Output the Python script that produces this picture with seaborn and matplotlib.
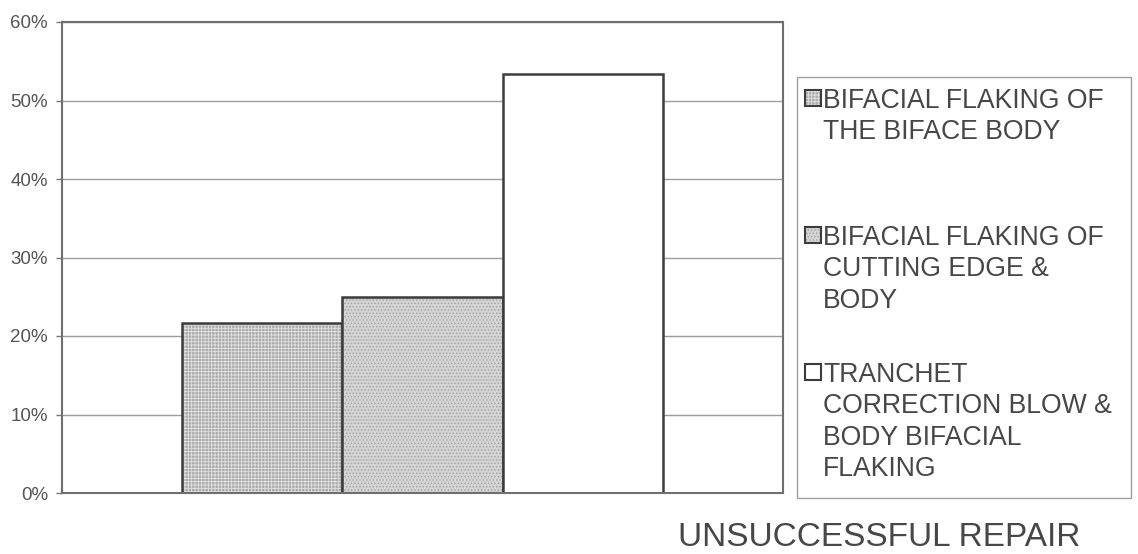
import matplotlib
matplotlib.use("Agg")
import matplotlib.pyplot as plt
import seaborn as sns
import pandas as pd
from matplotlib.colors import to_rgba
from matplotlib.patches import Rectangle
from matplotlib.ticker import FuncFormatter

# Data: share of unsuccessful repairs by repair technique (%)
category = ["UNSUCCESSFUL REPAIR"]
methods = [
    "BIFACIAL FLAKING OF\nTHE BIFACE BODY",
    "BIFACIAL FLAKING OF\nCUTTING EDGE &\nBODY",
    "TRANCHET\nCORRECTION BLOW &\nBODY BIFACIAL\nFLAKING",
]
shares = [21.6, 25.0, 53.4]
yticks = [0, 10, 20, 30, 40, 50, 60]

sns.set_theme(style="white")
plt.rcParams["font.family"] = ["Liberation Sans", "DejaVu Sans"]
plt.rcParams["hatch.linewidth"] = 0.6

df = pd.DataFrame({"group": category * len(methods), "method": methods, "share": shares})

W, H = 1138, 554
fig = plt.figure(figsize=(W / 100, H / 100), dpi=100)
ax = fig.add_axes([62 / W, 1 - 493 / H, (783 - 62) / W, (493 - 22) / H])

palette = ["#acacac", "#d3d3d3", "#ffffff"]
hatches = ["+++++", ".....", ""]
hatch_colors = ["#e2e2e2", "#a5a5a5", "#ffffff"]
edge = "#3c3c3c"
text_color = "#474747"

sns.barplot(data=df, x="group", y="share", hue="method", hue_order=methods,
            palette=palette, saturation=1, width=0.666, gap=0,
            edgecolor=edge, linewidth=1.8, ax=ax, legend=False)


def texture(patch, hatch, hcolor):
    patch.set_hatch(hatch)
    patch._hatch_color = to_rgba(hcolor)


for cont, h, hc in zip(ax.containers, hatches, hatch_colors):
    for bar in cont:
        texture(bar, h, hc)

ax.set_ylim(0, 60)
ax.set_yticks(yticks)
ax.yaxis.set_major_formatter(FuncFormatter(lambda v, _: f"{v:.0f}%"))
ax.grid(axis="y", color="#9e9e9e", linewidth=1.0)
ax.set_axisbelow(True)
ax.tick_params(axis="y", length=4, width=1, color="#777777", labelsize=13.5,
               labelcolor="#555555", pad=6, left=True)
ax.set_xticks([])
ax.set_xlabel("")
ax.set_ylabel("")
for s in ax.spines.values():
    s.set_color("#6f6f6f")
    s.set_linewidth(1.5)

# Legend panel: swatch aligned with the first line of each label
frame = Rectangle((797 / W, 1 - 498 / H), (1131 - 797) / W, (498 - 77) / H,
                  transform=fig.transFigure, facecolor="white",
                  edgecolor="#a0a0a0", linewidth=1.0)
fig.add_artist(frame)
first_line_y = [98, 235, 372]
sw = 16
for label, color, h, hc, y in zip(methods, palette, hatches, hatch_colors, first_line_y):
    sq = Rectangle((805 / W, 1 - (y + sw / 2) / H), sw / W, sw / H,
                   transform=fig.transFigure, facecolor=color,
                   edgecolor=edge, linewidth=1.5)
    texture(sq, h, hc)
    fig.add_artist(sq)
    fig.text(823 / W, 1 - (y - 10) / H, label, ha="left", va="top",
             fontsize=19.2, color=text_color, linespacing=1.27)

fig.text(879 / W, 1 - 538 / H, category[0], ha="center", va="center",
         fontsize=24, color=text_color)

fig.savefig("out.png", dpi=100, facecolor="white")
